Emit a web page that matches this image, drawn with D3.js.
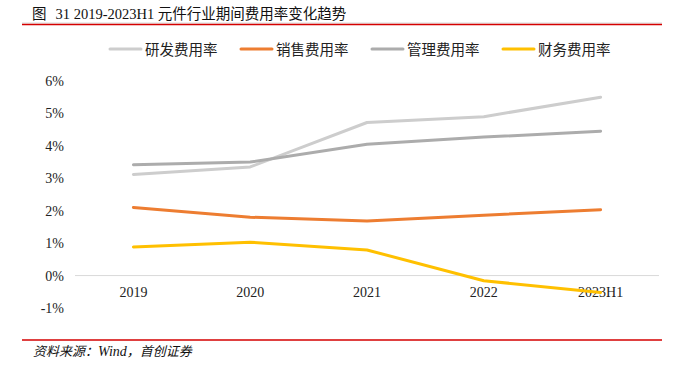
<!DOCTYPE html>
<html>
<head>
<meta charset="utf-8">
<script src="https://cdn.jsdelivr.net/npm/d3@7"></script>
<style>
  body { margin: 0; background: #fff; }
  svg { display: block; }
</style>
</head>
<body>
<svg id="chart" width="682" height="366"></svg>
<script>
// data (percent)
const years = ["2019", "2020", "2021", "2022", "2023H1"];
const rdRate = [3.12, 3.35, 4.72, 4.9, 5.5];
const salesRate = [2.1, 1.8, 1.68, 1.86, 2.03];
const mgmtRate = [3.42, 3.5, 4.05, 4.27, 4.45];
const finRate = [0.88, 1.03, 0.79, -0.16, -0.52];
const yTicks = [-1, 0, 1, 2, 3, 4, 5, 6];

const series = [
	{ name: "研发费用率", values: rdRate, color: "#cdcdcd" },
	{ name: "销售费用率", values: salesRate, color: "#ed7d31" },
	{ name: "管理费用率", values: mgmtRate, color: "#acacac" },
	{ name: "财务费用率", values: finRate, color: "#ffc000" }
];

const svg = d3.select("#chart");
const serif = "'Liberation Serif', 'Times New Roman', serif";
const cjk = "'Noto Sans CJK SC', sans-serif";

// title + rules
const title = svg.append("text")
	.attr("x", 32).attr("y", 19)
	.attr("font-size", 14.5).attr("fill", "#111");
title.append("tspan").attr("font-family", cjk).text("图");
title.append("tspan").attr("font-family", serif).attr("dx", 9).text("31 2019-2023H1 ");
title.append("tspan").attr("font-family", cjk).attr("font-size", 14.5).text("元件行业期间费用率变化趋势");

svg.append("line").attr("x1", 22).attr("x2", 662).attr("y1", 23).attr("y2", 23)
	.attr("stroke", "#d9d9d9").attr("stroke-width", 1);
svg.append("line").attr("x1", 22).attr("x2", 662).attr("y1", 24.5).attr("y2", 24.5)
	.attr("stroke", "#d40000").attr("stroke-width", 1.5);
svg.append("line").attr("x1", 22).attr("x2", 662).attr("y1", 340).attr("y2", 340)
	.attr("stroke", "#d40000").attr("stroke-width", 1.5);
const source = svg.append("text")
	.attr("x", 33).attr("y", 356)
	.attr("font-size", 13).attr("font-style", "italic")
	.attr("fill", "#111");
source.append("tspan").attr("font-family", cjk).text("资料来源：");
source.append("tspan").attr("font-family", serif).attr("font-size", 14).text("Wind");
source.append("tspan").attr("font-family", cjk).text("，首创证券");

// scales
const x = d3.scaleBand().domain(years).range([75, 659]);
const y = d3.scaleLinear().domain([-1, 6]).range([308, 81]);

// y axis labels
svg.append("g")
	.attr("transform", "translate(64,0)")
	.call(d3.axisLeft(y).tickValues(yTicks).tickSize(0).tickPadding(0)
		.tickFormat(d => d + "%"))
	.call(g => g.select(".domain").remove())
	.selectAll("text")
	.attr("font-family", serif).attr("font-size", 14).attr("fill", "#222");

// zero line + x labels
svg.append("line")
	.attr("x1", x.range()[0]).attr("x2", x.range()[1])
	.attr("y1", y(0)).attr("y2", y(0))
	.attr("stroke", "#d9d9d9").attr("stroke-width", 1);

svg.append("g")
	.attr("transform", "translate(0," + y(0) + ")")
	.call(d3.axisBottom(x).tickSize(0).tickPadding(11))
	.call(g => g.select(".domain").remove())
	.selectAll("text")
	.attr("font-family", serif).attr("font-size", 14).attr("fill", "#222");

// lines
const line = d3.line()
	.x((d, i) => x(years[i]) + x.bandwidth() / 2)
	.y(d => y(d));

svg.append("g").selectAll("path")
	.data(series)
	.enter().append("path")
	.attr("d", d => line(d.values))
	.attr("fill", "none")
	.attr("stroke", d => d.color)
	.attr("stroke-width", 3)
	.attr("stroke-linecap", "round")
	.attr("stroke-linejoin", "round");

// legend
const legend = svg.append("g").selectAll("g")
	.data(series)
	.enter().append("g")
	.attr("transform", (d, i) => "translate(" + (110 + i * 131) + ",49)");
legend.append("line")
	.attr("x1", 0).attr("x2", 31).attr("y1", 0).attr("y2", 0)
	.attr("stroke", d => d.color).attr("stroke-width", 3)
	.attr("stroke-linecap", "round");
legend.append("text")
	.attr("x", 35).attr("y", 5.5)
	.attr("font-family", cjk).attr("font-size", 14.5).attr("fill", "#222")
	.text(d => d.name);
</script>
</body>
</html>
